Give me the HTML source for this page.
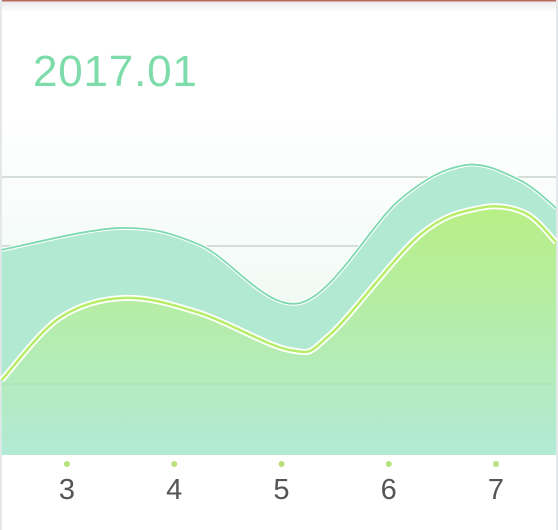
<!DOCTYPE html>
<html><head><meta charset="utf-8"><style>
html,body{margin:0;padding:0;background:#fff;}
#wrap{position:relative;width:558px;height:530px;overflow:hidden;background:#fff;}
svg{position:absolute;left:0;top:0;}
</style></head><body>
<div id="wrap">
<svg id="chart" width="558" height="530">
<defs>
<linearGradient id="bg" x1="0" y1="0" x2="0" y2="1">
<stop offset="0" stop-color="#ffffff"/><stop offset="0.25" stop-color="#ffffff"/><stop offset="1" stop-color="#e6f6ee"/>
</linearGradient>
<linearGradient id="lowFill" x1="0" y1="0" x2="0" y2="1">
<stop offset="0" stop-color="#b8ef85"/><stop offset="1" stop-color="#b2ead6"/>
</linearGradient>
<linearGradient id="topbar" x1="0" y1="0" x2="0" y2="1">
<stop offset="0" stop-color="#d9d9d9"/><stop offset="1" stop-color="#ffffff"/>
</linearGradient>
</defs>
<rect x="0" y="0" width="558" height="455" fill="url(#bg)"/>
<rect x="0" y="0" width="558" height="12" fill="url(#topbar)" opacity="0.6"/>
<rect x="0" y="0" width="558" height="1.5" fill="#b86a5c"/>
<rect x="0" y="0" width="2" height="530" fill="#e4e8ea"/>
<rect x="556" y="0" width="2" height="530" fill="#e4e8ea"/>
<g id="grid"></g>
<g id="series"></g>
<g id="xaxis"></g>
<text x="33" y="86" font-family="Liberation Sans, sans-serif" font-size="44" letter-spacing="0.8" fill="#7ddcaa">2017.01</text>
</svg>
</div>
<script>
const categories = ["3","4","5","6","7"];
const gridTicks = [0,25,50,75,100];
const topX = [2.39,3.49,4.24,5.17,6.10,6.71,7.22,7.56];
const topValues = [73.6,81.5,75.4,54.3,91.7,104.3,98.9,88.8];
const lowX = [2.39,2.93,3.54,4.24,5.08,5.45,6.29,6.85,7.27,7.56];
const lowValues = [26.4,48.9,56.2,50.7,37.3,42.8,79.0,88.8,87.0,76.4];

const NS="http://www.w3.org/2000/svg";
function xs(v){return 67+(v-3)*107.25;}
function ys(v){return 453-v/25*69;}
function mk(tag,attrs,parent){const e=document.createElementNS(NS,tag);for(const k in attrs)e.setAttribute(k,attrs[k]);parent.appendChild(e);return e;}
function path(xv,vals){
  const p=xv.map((x,i)=>[xs(x),ys(vals[i])]);
  let d="M"+p[0][0]+","+p[0][1];
  for(let i=0;i<p.length-1;i++){
    const p0=p[i-1]||p[i],p1=p[i],p2=p[i+1],p3=p[i+2]||p2;
    const c1=[p1[0]+(p2[0]-p0[0])/6,p1[1]+(p2[1]-p0[1])/6];
    const c2=[p2[0]-(p3[0]-p1[0])/6,p2[1]-(p3[1]-p1[1])/6];
    d+=" C"+c1[0]+","+c1[1]+" "+c2[0]+","+c2[1]+" "+p2[0]+","+p2[1];
  }
  return {d:d,first:p[0][0],last:p[p.length-1][0]};
}
const grid=document.getElementById('grid');
gridTicks.forEach(t=>{
  if(t===0)return;
  const l=mk('line',{x1:2,x2:556,y1:ys(t),y2:ys(t),stroke:'#c9d3cf','stroke-width':1.5},grid);
  
  
});
const s=document.getElementById('series');
const T=path(topX,topValues);
const ta=mk('path',{d:T.d+" L"+T.last+",455 L"+T.first+",455 Z",fill:'#aee8d0',opacity:0.95},s);


const tlw=mk('path',{d:T.d,fill:'none',stroke:'#ffffff','stroke-width':4},s);


const tl=mk('path',{d:T.d,fill:'none',stroke:'#7dd9b0','stroke-width':1.8},s);


const L=path(lowX,lowValues);
const la=mk('path',{d:L.d+" L"+L.last+",455 L"+L.first+",455 Z",fill:'url(#lowFill)'},s);


const llw=mk('path',{d:L.d,fill:'none',stroke:'#ffffff','stroke-width':6},s);


const ll=mk('path',{d:L.d,fill:'none',stroke:'#b6ee6a','stroke-width':2.5},s);


const g2=mk('line',{x1:2,x2:556,y1:ys(25),y2:ys(25),stroke:'#9fd9b0','stroke-width':1,opacity:0.6},s);


const ax=document.getElementById('xaxis');
categories.forEach((c,i)=>{
  const x=xs(+c);
  const dot=mk('circle',{cx:x,cy:464,r:3,fill:'#b8e07a'},ax);
  
  
  const t=mk('text',{x:x,y:499,'text-anchor':'middle','font-family':'Liberation Sans, sans-serif','font-size':29,fill:'#555'},ax);
  t.textContent=c;
  
  
});
</script>
</body></html>
